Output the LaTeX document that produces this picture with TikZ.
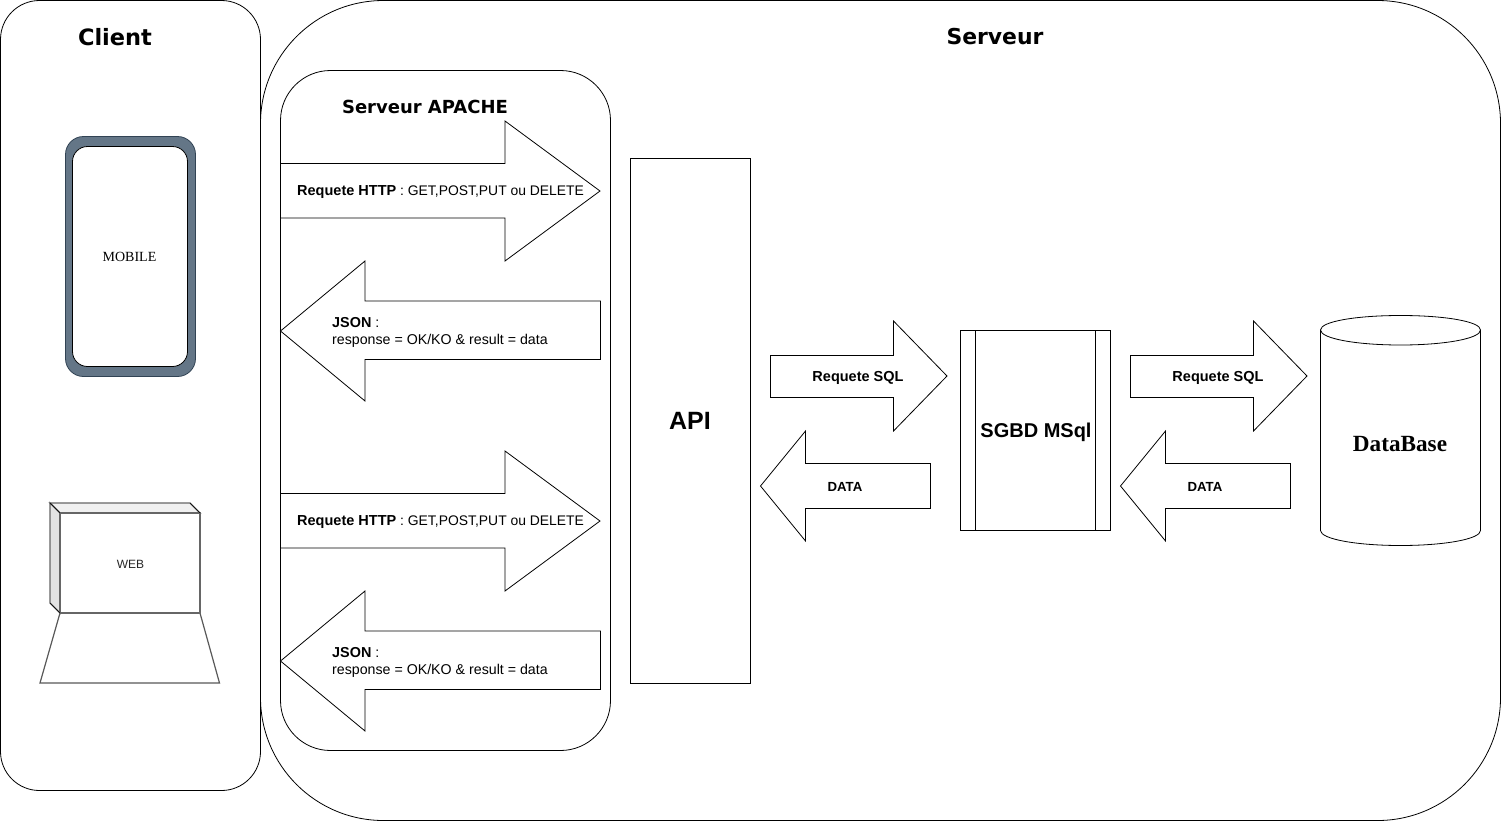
\documentclass[tikz,border=0pt]{standalone}
\usepackage{fontspec}
\setmainfont{Liberation Sans}
\newfontfamily\serifface{Liberation Serif}
\newfontfamily\titleface{DejaVu Sans}
\definecolor{phone}{HTML}{647687}
\definecolor{phoneline}{HTML}{314354}
\newcommand{\reqlabel}{{\fontsize{14.5}{17}\selectfont\bfseries Requete HTTP} : GET,POST,PUT ou DELETE}
\newcommand{\jsonlabel}{{\fontsize{14.4}{17}\selectfont\bfseries JSON} :\\response = OK/KO \& result = data}
\tikzset{
  x=1pt,y=-1pt,
  line/.style={draw=black,line width=0.8pt,line join=miter},
  shapefill/.style={line,fill=white},
  txt/.style={inner sep=0pt,text=black,font=\fontsize{13.9}{17}\selectfont},
  jtxt/.style={inner sep=0pt,text=black,font=\fontsize{14.2}{17}\selectfont},
  btxt/.style={inner sep=0pt,text=black,font=\fontsize{14.5}{17}\selectfont\bfseries},
  dtxt/.style={inner sep=0pt,text=black,font=\fontsize{13.2}{17}\selectfont\bfseries},
  grey/.style={draw=black!60,line width=1.4pt,line join=miter},
  title/.style={inner sep=0pt,font=\titleface\fontsize{21.9}{26}\selectfont\bfseries},
  subtitle/.style={inner sep=0pt,font=\titleface\fontsize{18}{22}\selectfont\bfseries},
}
\begin{document}
\begin{tikzpicture}
\useasboundingbox (0,0) rectangle (1501,822);
\fill[white] (0,0) rectangle (1501,822);
% containers
\draw[line,rounded corners=39pt] (0.5,0.5) rectangle (260.5,790.5);
\draw[line,rounded corners=123pt] (260.5,0.5) rectangle (1500.5,820.5);
\draw[line,rounded corners=50pt] (280.5,70.5) rectangle (610.5,750.5);
\node[title,font=\titleface\fontsize{22.5}{26}\selectfont\bfseries] (client) at (115,37) {Client};
\node[title] (serveur) at (995,36.5) {Serveur};
\node[subtitle] (apache) at (425,107) {Serveur APACHE};
% mobile
\draw[draw=phoneline,fill=phone,line width=0.8pt,rounded corners=18pt] (65.5,136.5) rectangle (195.5,376.5);
\draw[shapefill,rounded corners=15pt] (72.5,146.5) rectangle (187.5,366.5);
\node[inner sep=0pt,font=\serifface\fontsize{14}{16}\selectfont] (mobile) at (129.5,256.5) {MOBILE};
% laptop
\draw[draw=black!65,line width=1.2pt,fill=white] (60,613) -- (200,613) -- (219.5,683) -- (40,683) -- cycle;
\draw[grey,fill=black!6] (50,503) -- (190,503) -- (200,513) -- (60,513) -- cycle;
\draw[grey,fill=black!11] (50,503) -- (60,513) -- (60,613) -- (50,603) -- cycle;
\draw[grey,fill=white] (60,513) rectangle (200,613);
\draw[black,line width=0.6pt] (50,503) -- (60,513) (190,503) -- (200,513) (50,603) -- (60,613);
\node[inner sep=0pt,text=black!85,font=\fontsize{12}{14}\selectfont] (web) at (130.5,564) {WEB};
% HTTP arrows
\foreach \dy/\n in {0/a,330/b}{
  \begin{scope}[yshift=-\dy pt]
  \draw[shapefill] (280.5,163.5) -- (505,163.5) -- (505,121) -- (600,191) -- (505,261) -- (505,218) -- (280.5,218) -- cycle;
  \node[txt,anchor=west] (http\n) at (297,192.5) {\reqlabel};
  \draw[shapefill] (280.5,331) -- (365,261) -- (365,301) -- (600.5,301) -- (600.5,359.5) -- (365,359.5) -- (365,401) -- cycle;
  \node[jtxt,anchor=west,align=left] (json\n) at (332,332.5) {\jsonlabel};
  \end{scope}
}
% API
\draw[line] (630.5,158) rectangle (750.5,683);
\node[inner sep=0pt,font=\fontsize{25}{28}\selectfont\bfseries] (api) at (690,421) {API};
% SQL arrows
\foreach \dx/\n in {0/a,360/b}{
  \begin{scope}[xshift=\dx pt]
  \draw[shapefill] (770.5,355.5) -- (893.5,355.5) -- (893.5,321) -- (947,376) -- (893.5,431) -- (893.5,397.5) -- (770.5,397.5) -- cycle;
  \node[btxt] (sql\n) at (858,377.5) {Requete SQL};
  \draw[shapefill] (760.5,486) -- (805.5,431) -- (805.5,463.5) -- (930.5,463.5) -- (930.5,508.5) -- (805.5,508.5) -- (805.5,541) -- cycle;
  \node[dtxt] (data\n) at (845,486.5) {DATA};
  \end{scope}
}
% SGBD
\draw[line] (960.5,330.5) rectangle (1110.5,530.5);
\draw[line] (975.5,330.5) -- (975.5,530.5) (1095.5,330.5) -- (1095.5,530.5);
\node[inner sep=0pt,font=\fontsize{20}{24}\selectfont\bfseries] (sgbd) at (1036,432) {SGBD MSql};
% database
\draw[shapefill] (1320.5,330) .. controls (1320.5,321.5) and (1356,315.5) .. (1400.5,315.5) .. controls (1445,315.5) and (1480.5,321.5) .. (1480.5,330) -- (1480.5,530.5) .. controls (1480.5,539) and (1445,545.5) .. (1400.5,545.5) .. controls (1356,545.5) and (1320.5,539) .. (1320.5,530.5) -- cycle;
\draw[line] (1320.5,330) .. controls (1320.5,338.5) and (1356,345) .. (1400.5,345) .. controls (1445,345) and (1480.5,338.5) .. (1480.5,330);
\node[inner sep=0pt,font=\serifface\fontsize{23.2}{26}\selectfont\bfseries] (db) at (1400,444) {DataBase};
\end{tikzpicture}
\end{document}
